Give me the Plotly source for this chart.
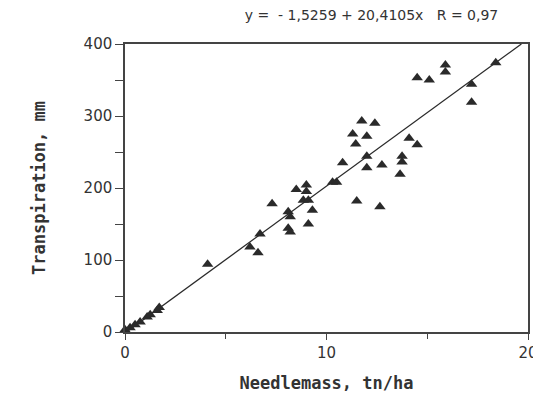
import numpy as np
import plotly.graph_objects as go

# Needle mass (tn/ha) and transpiration (mm)
needlemass = [0.0, 0.25, 0.5, 0.75, 1.1, 1.25, 1.6, 1.7,
              4.1, 6.2, 6.6, 6.7, 7.3, 8.1, 8.2, 8.1, 8.2, 8.5,
              9.0, 9.0, 8.85, 9.1, 9.3, 9.1, 10.3, 10.5, 10.8, 11.5,
              12.65, 12.0, 12.0, 12.75, 13.65, 13.75, 13.75, 14.1, 14.5,
              11.45, 11.3, 12.0, 11.75, 12.4,
              14.5, 15.1, 15.9, 15.9, 17.2, 17.2, 18.4]
transpiration = [3, 6, 10, 14, 21, 24, 30, 34,
                 94, 118, 110, 136, 178, 167, 160, 144, 139, 198,
                 204, 195, 183, 183, 169, 150, 208, 208, 235, 182,
                 174, 228, 244, 232, 219, 236, 244, 269, 260,
                 261, 275, 272, 293, 290,
                 353, 350, 371, 361, 344, 319, 374]

intercept = -1.5259
slope = 20.4105
title_text = "y =  - 1,5259 + 20,4105x   R = 0,97"
x_ticks = [0, 10, 20]
y_ticks = [0, 100, 200, 300, 400]

x_line = np.linspace(0, (400 - intercept) / slope, 50)
y_line = intercept + slope * x_line

ink = "#2a2a2a"
fig = go.Figure()
fig.add_trace(go.Scatter(x=x_line, y=y_line, mode="lines",
                         line=dict(color=ink, width=1.3), hoverinfo="skip"))
fig.add_trace(go.Scatter(x=needlemass, y=transpiration, mode="markers",
                         marker=dict(symbol="triangle-up", size=10, color=ink,
                                     line=dict(width=0))))

axis_common = dict(showgrid=False, zeroline=False, showline=True, mirror=True,
                   linecolor="#444", linewidth=1.5, ticks="outside",
                   tickcolor="#444", tickwidth=1.3, ticklabeloverflow="allow",
                   automargin=False,
                   tickfont=dict(family="DejaVu Sans", size=15, color="#333"))

title_font = dict(family="DejaVu Sans Mono", size=17, color="#333")

fig.update_layout(
    width=533, height=397,
    margin=dict(l=125, r=5, t=44, b=65, autoexpand=False),
    paper_bgcolor="white", plot_bgcolor="white",
    showlegend=False,
    title=dict(text=title_text, x=0.697, xanchor="center", y=0.963, yanchor="middle",
               font=dict(family="DejaVu Sans", size=14, color="#333")),
    xaxis=dict(range=[0, 20], tickvals=x_ticks, ticklen=6,
               minor=dict(dtick=5, ticks="outside", ticklen=5, tickcolor="#444", tickwidth=1.3),
               title=dict(text="<b>Needlemass, tn/ha</b>", standoff=16, font=title_font),
               **axis_common),
    yaxis=dict(range=[0, 400], tickvals=y_ticks, ticklen=8,
               minor=dict(dtick=50, ticks="outside", ticklen=8, tickcolor="#444", tickwidth=1.3),
               title=dict(text="<b>Transpiration, mm</b>", standoff=34, font=title_font),
               **axis_common),
)
fig.update_traces(cliponaxis=False)
fig.write_html("out.html")
